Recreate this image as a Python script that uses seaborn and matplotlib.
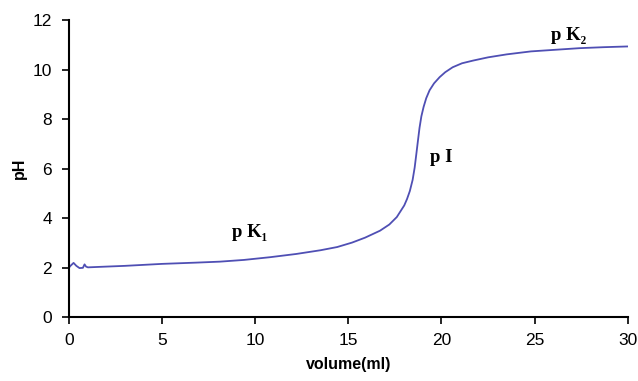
import numpy as np
import pandas as pd
import matplotlib
matplotlib.use("Agg")
import matplotlib.pyplot as plt
import seaborn as sns
sns.set_style("ticks")
plt.rcParams["font.family"] = ["Liberation Sans", "DejaVu Sans"]
plt.rcParams["text.color"] = "black"

# titration curve
volume = [0, 0.07, 0.25, 0.4, 0.57, 0.75, 0.84, 0.92, 1.02, 2.0, 3.0, 5.0,
          6.8, 8.1, 9.4, 10.8, 12.2, 13.5, 14.4, 15.2, 15.9, 16.7, 17.2,
          17.6, 18.0, 18.15, 18.3, 18.45, 18.56, 18.65, 18.73, 18.82, 18.92,
          19.04, 19.18, 19.36, 19.6, 19.9, 20.2, 20.6, 21.1, 21.7, 22.5,
          23.5, 24.8, 26.0, 27.4, 28.7, 30]
ph = [2.0, 2.07, 2.2, 2.08, 1.99, 2.0, 2.14, 2.05, 2.02, 2.05, 2.08, 2.16,
      2.21, 2.25, 2.32, 2.43, 2.56, 2.71, 2.84, 3.02, 3.22, 3.5, 3.75,
      4.05, 4.52, 4.78, 5.1, 5.55, 6.05, 6.6, 7.1, 7.65, 8.12,
      8.5, 8.85, 9.17, 9.45, 9.7, 9.9, 10.1, 10.26, 10.37, 10.5,
      10.62, 10.74, 10.8, 10.87, 10.91, 10.94]

labels = ["p K\u2081", "p I", "p K\u2082"]
label_x = [9.7, 20.0, 26.8]
label_y = [3.44, 6.46, 11.4]

df = pd.DataFrame({"volume": volume, "pH": ph})

fig = plt.figure(figsize=(6.38, 3.81), dpi=100)
ax = fig.add_axes([0.108, 0.167, 0.876, 0.78])
sns.lineplot(data=df, x="volume", y="pH", sort=False, color="#4f4fb4",
             linewidth=1.3, ax=ax)

for t, x, y in zip(labels, label_x, label_y):
    ax.text(x, y, t, ha="center", va="center", fontsize=13.5, fontweight="bold",
            color="black", family=["Liberation Serif", "DejaVu Serif"])

ax.set_xlim(0, 30)
ax.set_ylim(0, 12)
ax.set_xticks(range(0, 31, 5))
ax.set_yticks(range(0, 13, 2))
ax.tick_params(labelsize=12.5, length=5, width=1.2, color="black",
               labelcolor="black")
ax.tick_params(axis="x", pad=6)
ax.tick_params(axis="y", pad=7)
for s in ["left", "bottom"]:
    ax.spines[s].set_linewidth(1.5)
    ax.spines[s].set_color("black")
sns.despine(ax=ax)
ax.set_xlabel("volume(ml)", fontsize=11.5, fontweight="bold", labelpad=7,
              color="black")
ax.set_ylabel("pH", fontsize=11.5, fontweight="bold", labelpad=4,
              color="black")

fig.savefig("out.png", dpi=100)
